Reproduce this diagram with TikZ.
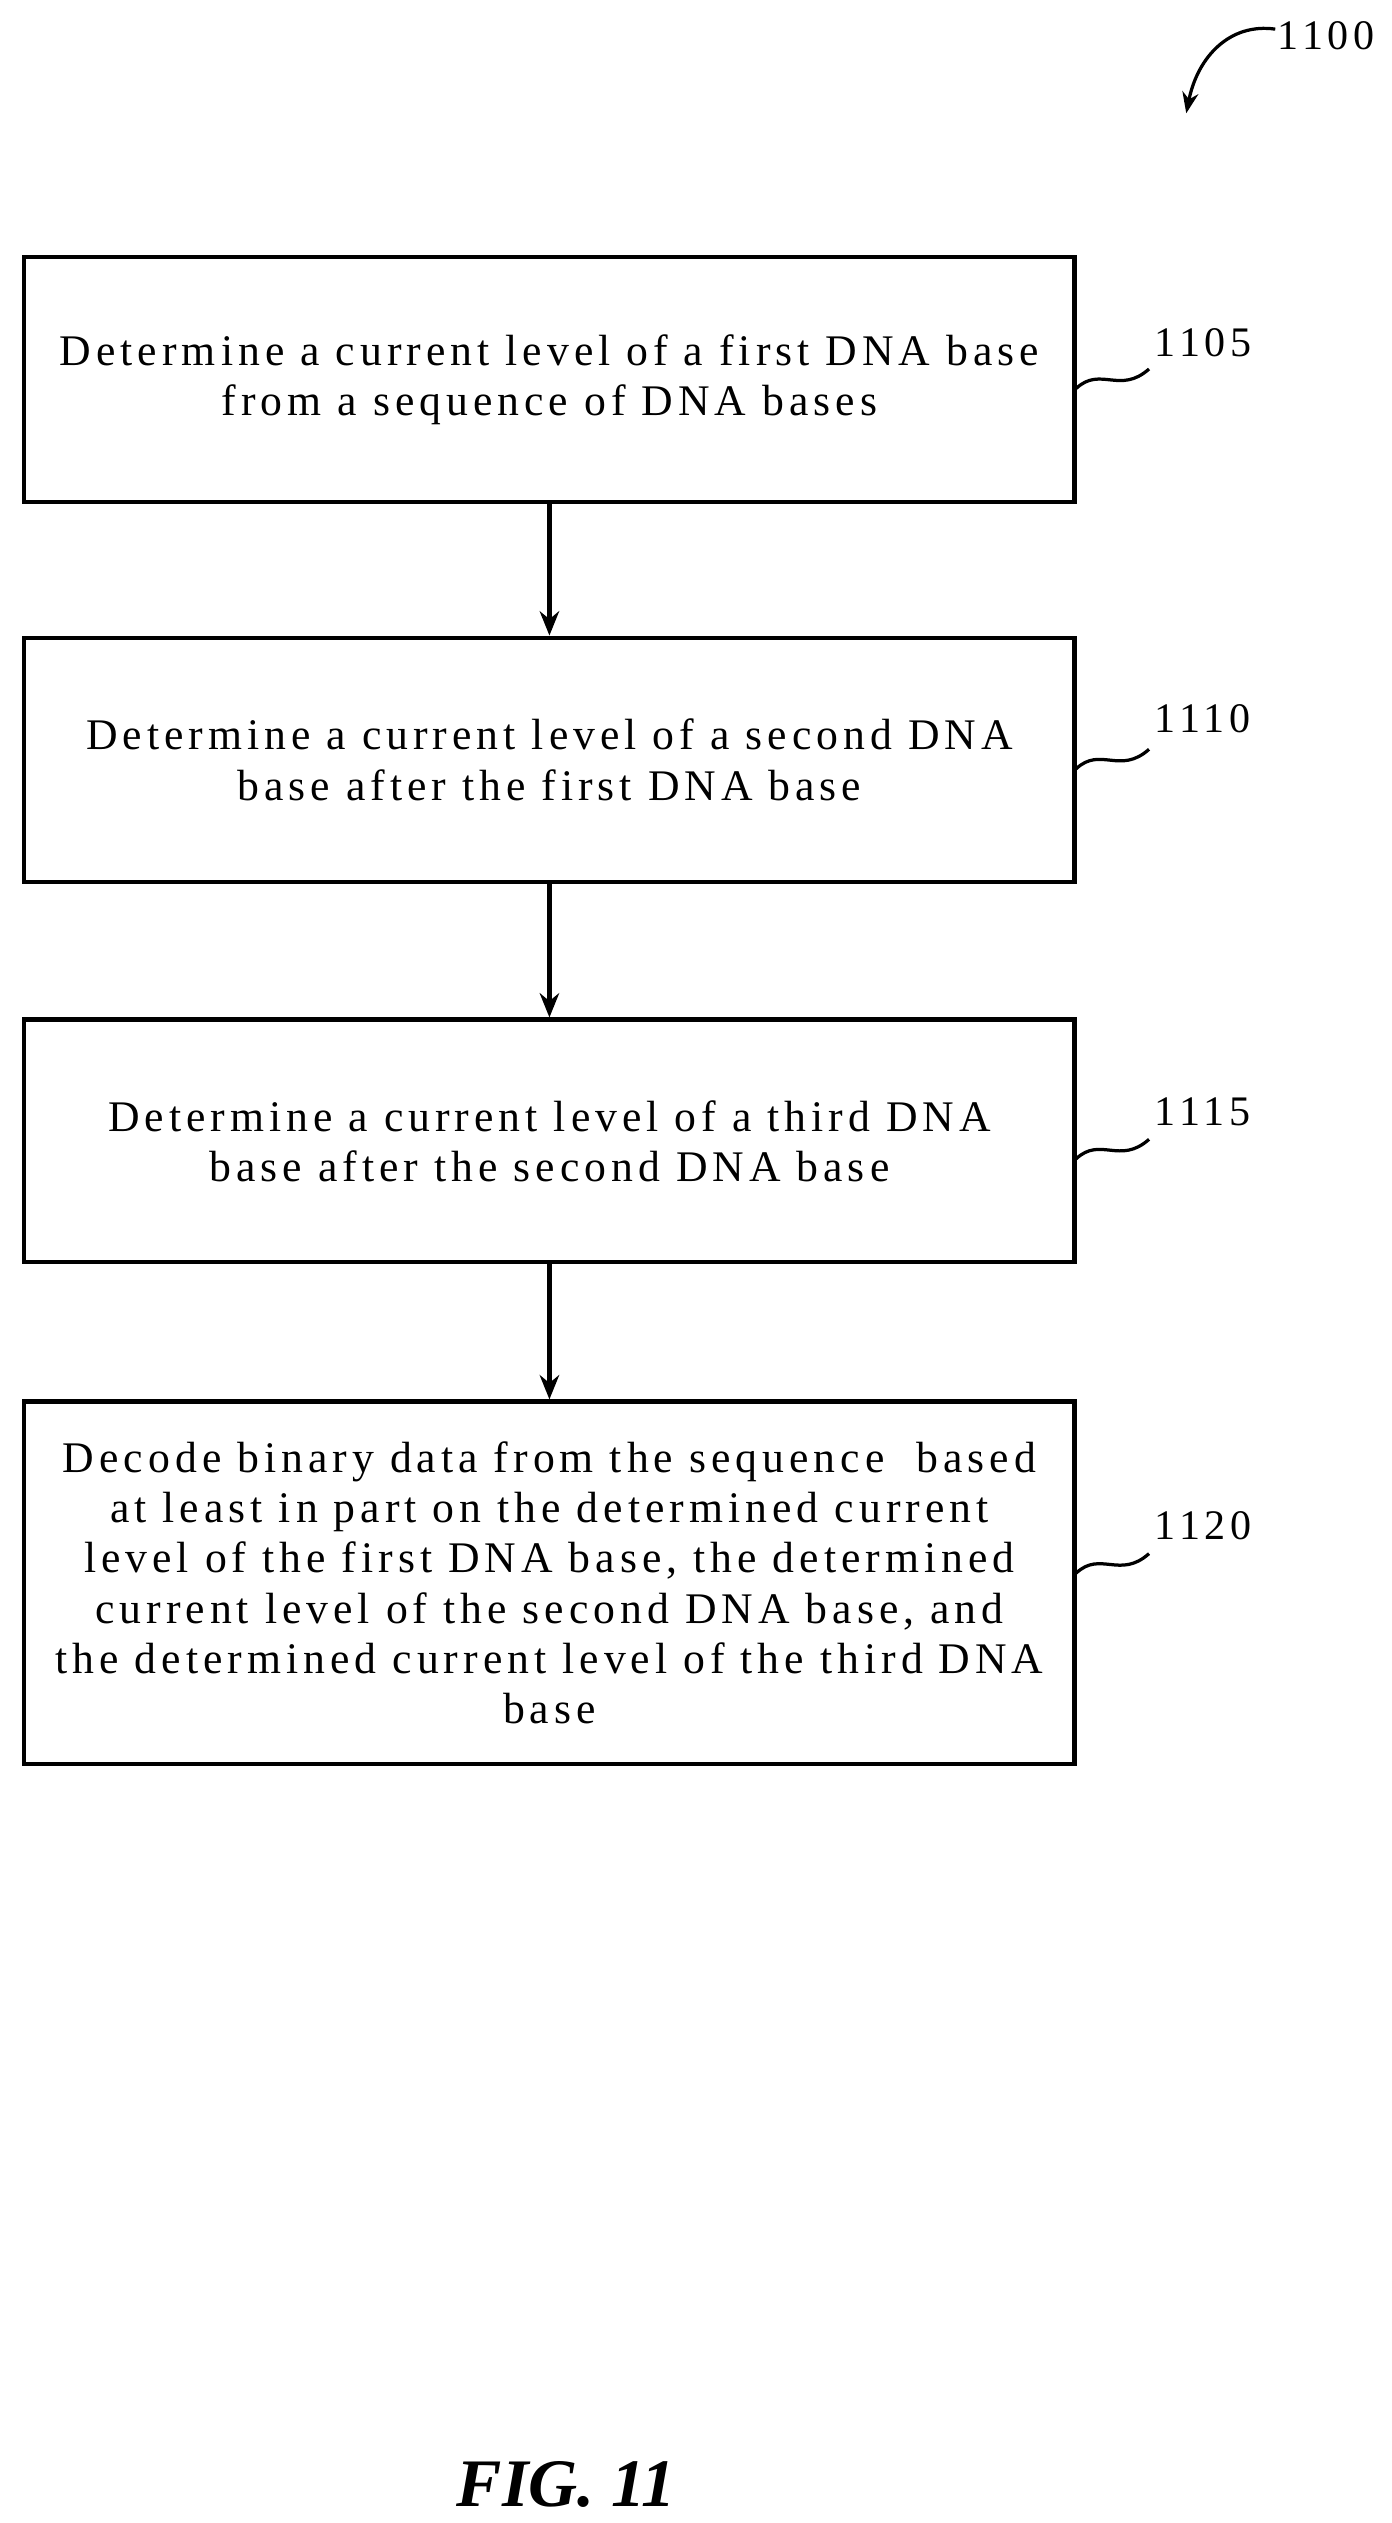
\documentclass[tikz,border=0pt]{standalone}
\usetikzlibrary{arrows.meta}
\usepackage{fontspec}
\setmainfont[LetterSpace=11.5]{Liberation Serif}
\newfontfamily\figfont{Liberation Serif}
\begin{document}
\begin{tikzpicture}[x=1pt,y=-1pt,
  box/.style={draw,line width=2.6pt,minimum width=649pt,align=center,inner sep=0pt,font=\fontsize{27}{31}\selectfont},
  arr/.style={line width=2.6pt,-{Stealth[length=15pt,width=12pt]}},
  lbl/.style={font=\fontsize{26}{30}\selectfont,anchor=west},
  sq/.style={line width=2pt}]
\useasboundingbox (0,0) rectangle (860,1559);
\node[box,minimum height=151pt] (b1) at (339.5,234.5) {Determine a current level of a first DNA base\\from a sequence of DNA bases};
\node[box,minimum height=151pt] (b2) at (339.5,469.5) {Determine a current level of a second DNA\\base after the first DNA base};
\node[box,minimum height=150pt] (b3) at (339.5,705) {Determine a current level of a third DNA\\base after the second DNA base};
\node[box,minimum height=224pt] (b4) at (339.5,978) {Decode binary data from the sequence\ \ based\\at least in part on the determined current\\level of the first DNA base, the determined\\current level of the second DNA base, and\\the determined current level of the third DNA\\base};
\draw[arr] (b1) -- (b2);
\draw[arr] (b2) -- (b3);
\draw[arr] (b3) -- (b4);
\node[lbl] (l1) at (710,212) {1105};
\node[lbl] (l2) at (710,444) {1110};
\node[lbl] (l3) at (710,687) {1115};
\node[lbl] (l4) at (710,943) {1120};
\foreach \n/\y in {1/240,2/475,3/716,4/972}{
  \draw[sq] (665,\y) .. controls (680,\y-14) and (692,\y+4) .. (710,\y-12);
}
\node[lbl] (l0) at (786,22) {1100};
\coordinate (c0) at (788,18);
\draw[line width=2pt,-{Stealth[length=13pt,width=10pt]}] (c0) .. controls (760,14) and (740,35) .. (733,70);
\node[font=\figfont\fontsize{42}{48}\selectfont\bfseries\itshape] (fig) at (350,1535) {FIG. 11};
\end{tikzpicture}
\end{document}
